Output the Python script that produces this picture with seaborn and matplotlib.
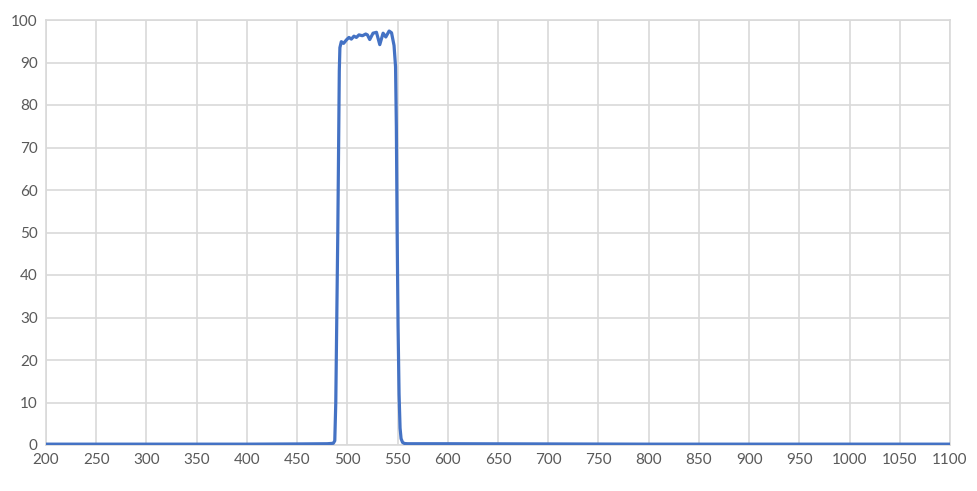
import matplotlib
matplotlib.use("Agg")
import matplotlib.pyplot as plt
import seaborn as sns
import pandas as pd

wavelength = [200, 300, 400, 450, 480, 486, 487.5, 488.5, 489.5, 490.5, 491.5, 492.0, 492.6,
              494.0, 496.3, 499.0, 501.6, 504.0, 506.6, 509.0, 511.6, 515.0, 518.3, 520.0,
              522.3, 525.6, 529.0, 532.3, 535.6, 538.3, 541.6, 544.0, 546.5, 548.0, 548.8,
              549.6, 550.5, 551.5, 552.5, 553.5, 555.0, 557.0, 560, 600, 700, 800, 900, 1000, 1100]
transmission = [0.2, 0.2, 0.2, 0.25, 0.3, 0.4, 1.0, 10.0, 30.0, 50.0, 75.0, 88.0, 93.5,
                94.9, 94.5, 95.3, 95.9, 95.5, 96.2, 95.9, 96.5, 96.3, 96.7, 96.5,
                95.4, 96.9, 97.1, 94.2, 96.9, 96.0, 97.4, 97.0, 94.0, 89.0, 75.0,
                50.0, 28.0, 12.0, 4.0, 1.5, 0.6, 0.35, 0.3, 0.3, 0.25, 0.2, 0.2, 0.2, 0.2]

x_ticks = list(range(200, 1101, 50))
y_ticks = list(range(0, 101, 10))

df = pd.DataFrame({"wavelength": wavelength, "transmission": transmission})

sns.set_theme(style="white")
plt.rcParams['font.family'] = ['Lato', 'DejaVu Sans']

fig = plt.figure(figsize=(9.77, 4.91), dpi=100)
ax = fig.add_axes([46 / 977, 1 - 445 / 491, (950 - 46) / 977, (445 - 20) / 491])

sns.lineplot(data=df, x="wavelength", y="transmission", ax=ax, color="#4472C4",
             linewidth=2.3, zorder=3)

ax.set_xlim(200, 1100)
ax.set_ylim(0, 100)
ax.set_xticks(x_ticks)
ax.set_yticks(y_ticks)
ax.set_xticklabels([str(t) for t in x_ticks])
ax.set_yticklabels([str(t) for t in y_ticks])
ax.grid(True, color="#d9d9d9", linewidth=1.2)
ax.set_axisbelow(True)
for s in ax.spines.values():
    s.set_visible(True)
    s.set_color("#d9d9d9")
    s.set_linewidth(1.2)
ax.tick_params(axis="both", length=0, labelsize=11, colors="#595959", pad=6)
ax.set_xlabel("")
ax.set_ylabel("")

fig.savefig("out.png", dpi=100)
